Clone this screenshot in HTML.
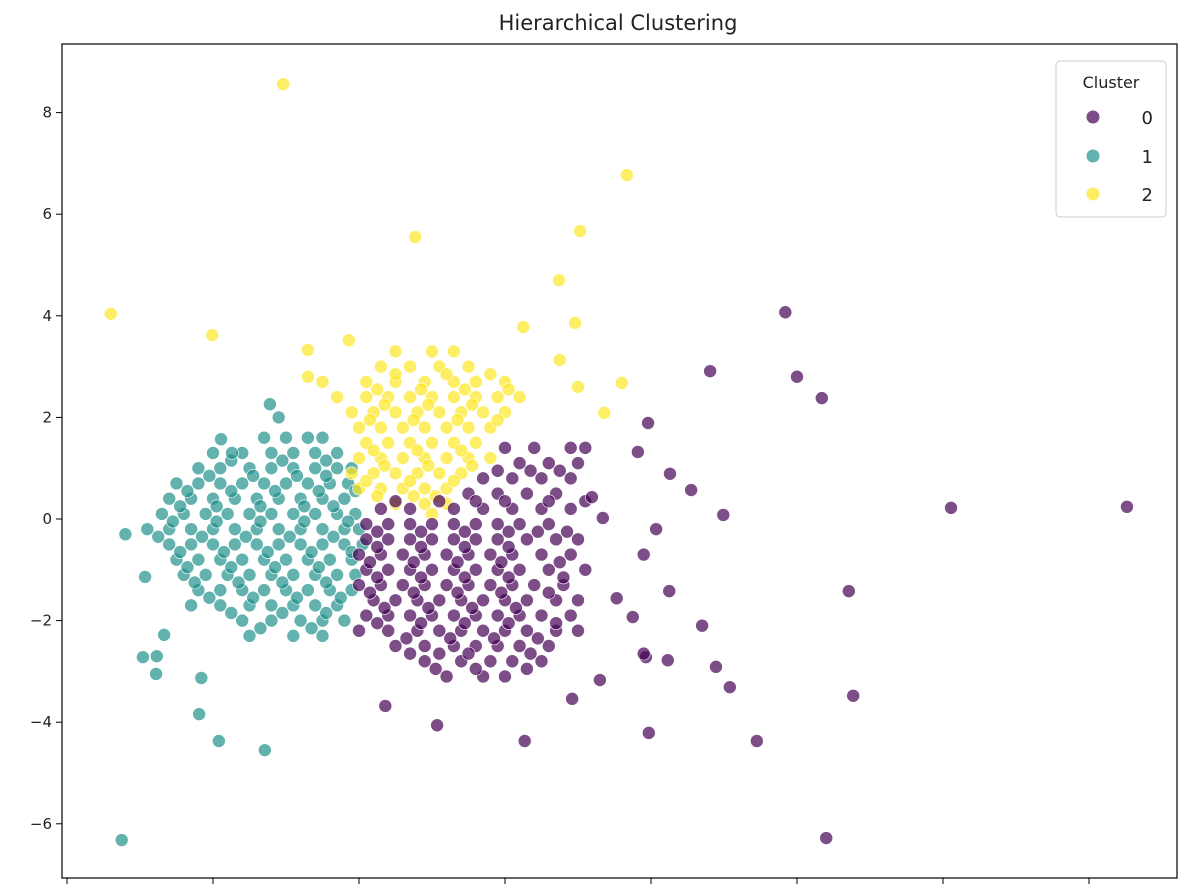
<!DOCTYPE html>
<html><head><meta charset="utf-8"><style>
body{margin:0;background:#fff;font-family:"Liberation Sans","DejaVu Sans",sans-serif}
svg text{font-family:"DejaVu Sans","Liberation Sans",sans-serif}
</style></head><body>
<svg id="chart" width="1184" height="884" xmlns="http://www.w3.org/2000/svg">
<rect width="1184" height="884" fill="#fff"/>
<text x="618" y="30" font-size="21" text-anchor="middle" fill="#222">Hierarchical Clustering</text>
<g id="marks"></g>
<rect x="62" y="44" width="1115" height="834" fill="none" stroke="#000" stroke-width="1.2"/>
<g id="axes"></g>
<g>
<rect x="1056" y="61" width="110" height="156" rx="4" fill="#fff" fill-opacity="0.8" stroke="#ccc"/>
<text x="1111" y="88" font-size="16" text-anchor="middle" fill="#222">Cluster</text>
<circle cx="1093" cy="117" r="6.5" fill="#440154" fill-opacity="0.7"/>
<text x="1153" y="124" font-size="18" text-anchor="end" fill="#222">0</text>
<circle cx="1093" cy="156" r="6.5" fill="#21918c" fill-opacity="0.7"/>
<text x="1153" y="163" font-size="18" text-anchor="end" fill="#222">1</text>
<circle cx="1093" cy="194" r="6.5" fill="#fde725" fill-opacity="0.7"/>
<text x="1153" y="201" font-size="18" text-anchor="end" fill="#222">2</text>
</g>
</svg>
<script>
const yTicks=[8,6,4,2,0,-2,-4,-6];
const yTickLabels=["8","6","4","2","0","\u22122","\u22124","\u22126"];
const xTicks=[-4,-2,0,2,4,6,8,10];
const clusterColors=["#440154","#21918c","#fde725"];
// rows: [y, [x values]]
const rows1=[[1.6,[-1.3,-1.0,-0.7,-0.5]],[1.3,[-2.0,-1.6,-1.2,-0.9,-0.6,-0.3]],[1.0,[-2.2,-1.9,-1.5,-1.2,-0.9,-0.6,-0.3,-0.1]],[0.7,[-2.5,-2.2,-1.9,-1.6,-1.3,-1.0,-0.7,-0.4,-0.15]],[0.4,[-2.6,-2.3,-2.0,-1.7,-1.4,-1.1,-0.8,-0.5,-0.2]],[0.1,[-2.7,-2.4,-2.1,-1.8,-1.5,-1.2,-0.9,-0.6,-0.3,-0.05]],[-0.2,[-2.9,-2.6,-2.3,-2.0,-1.7,-1.4,-1.1,-0.8,-0.5,-0.2,0.0]],[-0.5,[-2.6,-2.3,-2.0,-1.7,-1.4,-1.1,-0.8,-0.5,-0.2,0.05]],[-0.8,[-2.5,-2.2,-1.9,-1.6,-1.3,-1.0,-0.7,-0.4,-0.1]],[-1.1,[-2.4,-2.1,-1.8,-1.5,-1.2,-0.9,-0.6,-0.3,-0.05]],[-1.4,[-2.2,-1.9,-1.6,-1.3,-1.0,-0.7,-0.4,-0.1]],[-1.7,[-2.3,-1.9,-1.5,-1.2,-0.9,-0.6,-0.3]],[-2.0,[-1.6,-1.2,-0.8,-0.5,-0.2]],[-2.3,[-1.5,-0.9,-0.5]],
[0.25,[-2.45,-1.95,-1.35,-0.75,-0.35]],[-0.35,[-2.75,-2.15,-1.55,-0.95,-0.35]],[-0.95,[-2.35,-1.75,-1.15,-0.55]],[0.85,[-2.05,-1.45,-0.85,-0.45]],[-1.55,[-2.05,-1.45,-0.85,-0.25]],
[1.15,[-1.75,-1.05,-0.45]],[0.55,[-2.35,-1.75,-1.15,-0.55,-0.05]],[-0.05,[-2.55,-1.95,-1.35,-0.75,-0.15]],[-0.65,[-2.45,-1.85,-1.25,-0.65,-0.1]],[-1.25,[-2.25,-1.65,-1.05,-0.45]],[-1.85,[-1.75,-1.05,-0.45]],[-2.15,[-1.35,-0.65]]];
const out1=[[-3.25,-6.32],[-1.29,-4.55],[-1.92,-4.37],[-2.19,-3.84],[-2.16,-3.13],[-2.78,-3.05],[-2.96,-2.72],[-2.77,-2.7],[-2.67,-2.28],[-2.93,-1.14],[-1.22,2.26],[-1.89,1.57],[-1.74,1.3],[-1.1,2.0],[-3.2,-0.3]];
const rows2=[[3.3,[0.5,1.0,1.3]],[3.0,[0.3,0.7,1.1,1.5]],[2.7,[-0.5,0.1,0.5,0.9,1.3,1.6,2.0]],[2.4,[-0.3,0.1,0.4,0.7,1.0,1.3,1.6,1.9,2.2]],[2.1,[-0.1,0.2,0.5,0.8,1.1,1.4,1.7,2.0]],[1.8,[0.0,0.3,0.6,0.9,1.2,1.5,1.8]],[1.5,[0.1,0.4,0.7,1.0,1.3,1.6]],[1.2,[0.0,0.3,0.6,0.9,1.2,1.5,1.8]],[0.9,[-0.1,0.2,0.5,0.8,1.1,1.4]],[0.6,[0.0,0.3,0.6,0.9,1.2]],[0.3,[0.5,0.9,1.2]],[0.1,[1.0]],
[1.95,[0.15,0.75,1.35,1.9]],[1.35,[0.2,0.8,1.4]],[0.75,[0.1,0.7,1.3]],[2.25,[0.35,0.95,1.55]],
[2.55,[0.25,0.85,1.45,2.05]],[1.05,[0.35,0.95,1.55]],[0.45,[0.25,0.75,1.05]],[2.85,[0.5,1.2,1.8]]];
const out2=[[-1.04,8.56],[-3.4,4.04],[-2.01,3.62],[0.77,5.55],[3.67,6.77],[3.03,5.67],[2.74,4.7],[2.96,3.86],[2.75,3.13],[3.6,2.68],[3.36,2.09],[2.25,3.78],[-0.14,3.52],[-0.7,3.33],[-0.7,2.8],[3.0,2.6]];
const rows0=[[1.4,[2.0,2.4,2.9,3.1]],[1.1,[2.2,2.6,3.0]],[0.8,[1.7,2.1,2.5,2.9]],[0.5,[1.5,1.9,2.3,2.7]],[0.2,[0.3,0.7,1.3,1.7,2.1,2.5,2.9]],[-0.1,[0.1,0.4,0.7,1.0,1.3,1.6,1.9,2.2,2.6]],[-0.4,[0.1,0.4,0.7,1.0,1.3,1.6,1.9,2.3,2.7,3.0]],[-0.7,[0.0,0.3,0.6,0.9,1.2,1.5,1.8,2.1,2.5,2.9]],[-1.0,[0.1,0.4,0.7,1.0,1.3,1.6,1.9,2.2,2.6,3.1]],[-1.3,[0.0,0.3,0.6,0.9,1.2,1.5,1.8,2.1,2.4,2.8]],[-1.6,[0.2,0.5,0.8,1.1,1.4,1.7,2.0,2.3,2.7,3.0]],[-1.9,[0.1,0.4,0.7,1.0,1.3,1.6,1.9,2.2,2.5,2.9]],[-2.2,[0.0,0.4,0.8,1.1,1.4,1.7,2.0,2.3,2.7,3.0]],[-2.5,[0.5,0.9,1.3,1.6,1.9,2.2,2.6]],[-2.8,[0.9,1.4,1.8,2.1,2.5]],[-3.1,[1.2,1.7,2.0]],
[-0.55,[0.25,0.85,1.45,2.05]],[-1.15,[0.25,0.85,1.45,2.05,2.8]],[-1.75,[0.35,0.95,1.55,2.15]],[-2.35,[0.65,1.25,1.85,2.45]],
[0.95,[1.9,2.35,2.75]],[0.35,[0.5,1.1,1.6,2.0,2.6,3.1]],[-0.25,[0.25,0.85,1.45,2.05,2.45,2.85]],[-0.85,[0.15,0.75,1.35,1.95,2.75]],[-1.45,[0.15,0.75,1.35,1.95,2.6]],[-2.05,[0.25,0.85,1.45,2.05,2.7]],[-2.65,[0.7,1.1,1.5,2.35]],[-2.95,[1.05,1.6,2.3]]];
const out0=[[5.84,4.07],[6.0,2.8],[6.34,2.38],[4.81,2.91],[10.52,0.24],[8.11,0.22],[4.55,0.57],[4.99,0.08],[3.96,1.89],[4.26,0.89],[4.07,-0.2],[4.25,-1.42],[6.71,-1.42],[6.77,-3.48],[6.4,-6.28],[5.45,-4.37],[5.08,-3.31],[4.89,-2.91],[4.7,-2.1],[4.23,-2.78],[3.97,-4.21],[3.93,-2.72],[0.36,-3.68],[1.07,-4.06],[2.27,-4.37],[2.92,-3.54],[3.3,-3.17],[3.53,-1.56],[3.75,-1.93],[3.34,0.02],[3.19,0.43],[3.82,1.32],[3.9,-0.7],[3.9,-2.65]];

const X=x=>67+(x+4)*73;
const Y=y=>519-50.8*y;
const NS="http://www.w3.org/2000/svg";
const axes=document.getElementById('axes');
yTicks.forEach((t,i)=>{
 const l=document.createElementNS(NS,'line');
 l.setAttribute('x1',56);l.setAttribute('x2',62);l.setAttribute('y1',Y(t));l.setAttribute('y2',Y(t));l.setAttribute('stroke','#000');
 
 
 axes.appendChild(l);
 const tx=document.createElementNS(NS,'text');
 tx.setAttribute('x',52);tx.setAttribute('y',Y(t)+5);tx.setAttribute('font-size','15');tx.setAttribute('text-anchor','end');tx.setAttribute('fill','#222');
 tx.textContent=yTickLabels[i];
 
 
 axes.appendChild(tx);
});
xTicks.forEach(t=>{
 const l=document.createElementNS(NS,'line');
 l.setAttribute('x1',X(t));l.setAttribute('x2',X(t));l.setAttribute('y1',878);l.setAttribute('y2',884);l.setAttribute('stroke','#000');
 
 
 axes.appendChild(l);
});
const marks=document.getElementById('marks');
function pt(x,y,c){
 const ci=document.createElementNS(NS,'circle');
 ci.setAttribute('cx',X(x));ci.setAttribute('cy',Y(y));ci.setAttribute('r',6.5);
 ci.setAttribute('fill',clusterColors[c]);ci.setAttribute('fill-opacity',0.7);
 ci.setAttribute('stroke','#fff');ci.setAttribute('stroke-width',0.6);
 
 
 marks.appendChild(ci);
}
[[rows1,out1,1],[rows2,out2,2],[rows0,out0,0]].forEach(([rows,outs,c])=>{
 rows.forEach(([y,xs])=>xs.forEach(x=>pt(x,y,c)));
 outs.forEach(([x,y])=>pt(x,y,c));
});
</script>
</body></html>
